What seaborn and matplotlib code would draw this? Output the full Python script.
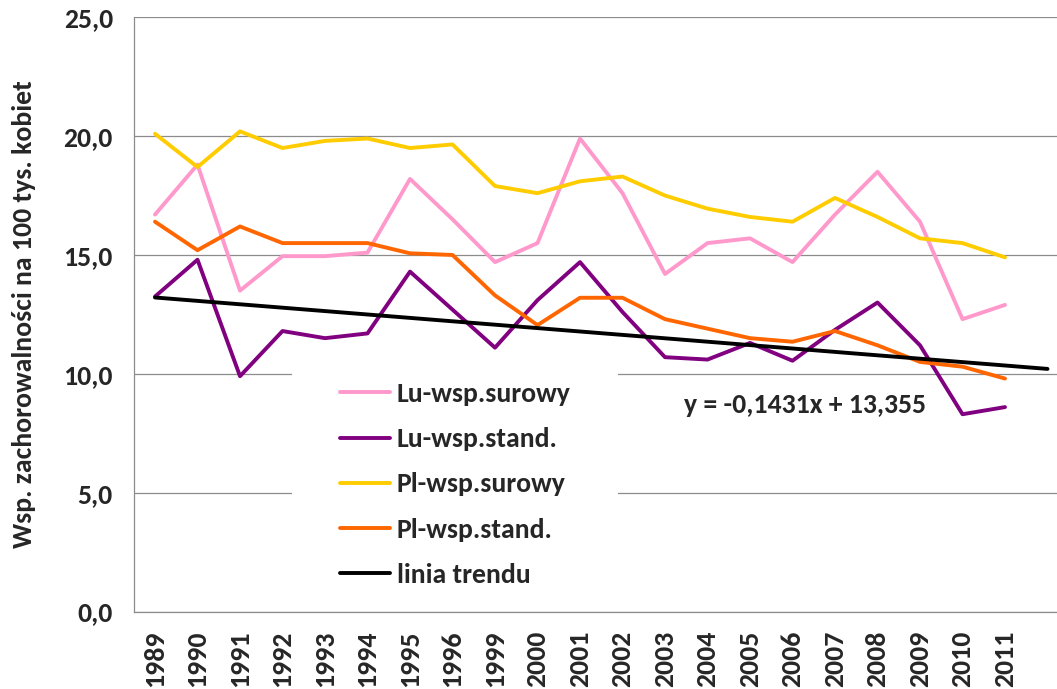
import matplotlib
matplotlib.use("Agg")
import matplotlib.pyplot as plt
import matplotlib.font_manager as fm
from matplotlib.patches import Rectangle
import numpy as np
import pandas as pd
import seaborn as sns

# Years shown on the category axis (1997 and 1998 are absent in the source series)
years = ["1989", "1990", "1991", "1992", "1993", "1994", "1995", "1996", "1999",
         "2000", "2001", "2002", "2003", "2004", "2005", "2006", "2007", "2008",
         "2009", "2010", "2011"]

lu_surowy = [16.7, 18.8, 13.5, 14.95, 14.95, 15.1, 18.2, 16.5, 14.7, 15.5, 19.9,
             17.6, 14.2, 15.5, 15.7, 14.7, 16.7, 18.5, 16.4, 12.3, 12.9]
lu_stand = [13.25, 14.8, 9.9, 11.8, 11.5, 11.7, 14.3, 12.7, 11.1, 13.1, 14.7,
            12.6, 10.7, 10.6, 11.3, 10.55, 11.85, 13.0, 11.2, 8.3, 8.6]
pl_surowy = [20.1, 18.7, 20.2, 19.5, 19.8, 19.9, 19.5, 19.65, 17.9, 17.6, 18.1,
             18.3, 17.5, 16.95, 16.6, 16.4, 17.4, 16.6, 15.7, 15.5, 14.9]
pl_stand = [16.4, 15.2, 16.2, 15.5, 15.5, 15.5, 15.07, 15.0, 13.3, 12.05, 13.2,
            13.2, 12.3, 11.9, 11.5, 11.35, 11.8, 11.2, 10.5, 10.3, 9.8]

series_names = ["Lu-wsp.surowy", "Lu-wsp.stand.", "Pl-wsp.surowy", "Pl-wsp.stand."]
series_colors = ["#FF99CC", "#800080", "#FFCC00", "#FF6600"]

# Linear trend (x = 1, 2, ... ; one period forecast beyond the last year)
trend_slope = -0.1431
trend_intercept = 13.355
trend_periods = 22
trend_label = "linia trendu"
equation_text = "y = -0,1431x + 13,355"

y_ticks = [0, 5, 10, 15, 20, 25]
y_label = "Wsp. zachorowalności na 100 tys. kobiet"

W, H = 1057, 689

sns.set_theme(style="white")
installed = {f.name for f in fm.fontManager.ttflist}
if "Carlito" in installed:
    base_font, scale = "Carlito", 1.0
else:
    base_font, scale = "Lato", 0.87
plt.rcParams["font.family"] = [base_font, "DejaVu Sans"]
plt.rcParams["font.weight"] = "bold"
fs = 20 * scale

fig = plt.figure(figsize=(W / 100, H / 100), dpi=100)
ax = fig.add_axes([133.75 / W, 77.5 / H, 935 / W, 594.2 / H])

pos = np.arange(len(years))
frames = []
for name, vals in zip(series_names, [lu_surowy, lu_stand, pl_surowy, pl_stand]):
    frames.append(pd.DataFrame({"pos": pos, "value": vals, "series": name}))
df = pd.concat(frames, ignore_index=True)

sns.lineplot(data=df, x="pos", y="value", hue="series", hue_order=series_names,
             palette=series_colors, linewidth=2.8, ax=ax, sort=False, zorder=3)

tx = np.arange(1, trend_periods + 1)
trend_df = pd.DataFrame({"pos": tx - 1, "value": trend_slope * tx + trend_intercept})
sns.lineplot(data=trend_df, x="pos", y="value", color="black", linewidth=2.8,
             ax=ax, label=trend_label, zorder=4)

ax.set_xlim(-0.5, trend_periods - 0.5)
ax.set_ylim(0, 25)
ax.set_yticks(y_ticks)
ax.set_yticklabels([f"{v:.1f}".replace(".", ",") for v in y_ticks])
ax.set_xticks(pos)
ax.set_xticklabels(years, rotation=90)
ax.tick_params(axis="both", length=0, labelsize=fs)
ax.tick_params(axis="y", pad=15)
ax.tick_params(axis="x", pad=14)
for lab in ax.get_xticklabels() + ax.get_yticklabels():
    lab.set_fontweight("bold")

ax.set_xlabel("")
ax.set_ylabel(y_label, fontsize=fs, fontweight="bold", va="center")
ax.yaxis.set_label_coords((24 - 133.75) / 935, 0.5)

ax.yaxis.grid(True, color="#8C8C8C", linewidth=0.9, zorder=0)
ax.set_axisbelow(True)
for side in ["top", "right"]:
    ax.spines[side].set_visible(False)
for side in ["left", "bottom"]:
    ax.spines[side].set_color("#8C8C8C")
    ax.spines[side].set_linewidth(0.9)

# white legend area sitting over the gridlines
ax.add_patch(Rectangle((292 / W, 1 - 600 / H), 326 / W, 234 / H,
                       transform=fig.transFigure, facecolor="white",
                       edgecolor="none", zorder=2))

fs_px = fs / 0.72
leg = ax.legend(loc="upper left", bbox_to_anchor=(340 / W, 1 - 382 / H),
                bbox_transform=fig.transFigure, frameon=False,
                prop={"size": fs, "weight": "bold"},
                handlelength=50 / fs_px, handletextpad=7 / fs_px,
                labelspacing=(49 - fs_px) / fs_px, borderpad=0,
                borderaxespad=0)
for line in leg.get_lines():
    line.set_linewidth(2.8)
leg.set_zorder(5)

fig.text(805 / W, 1 - 405 / H, equation_text, ha="center", va="center",
         fontsize=fs, fontweight="bold")

fig.savefig("out.png", dpi=100)
